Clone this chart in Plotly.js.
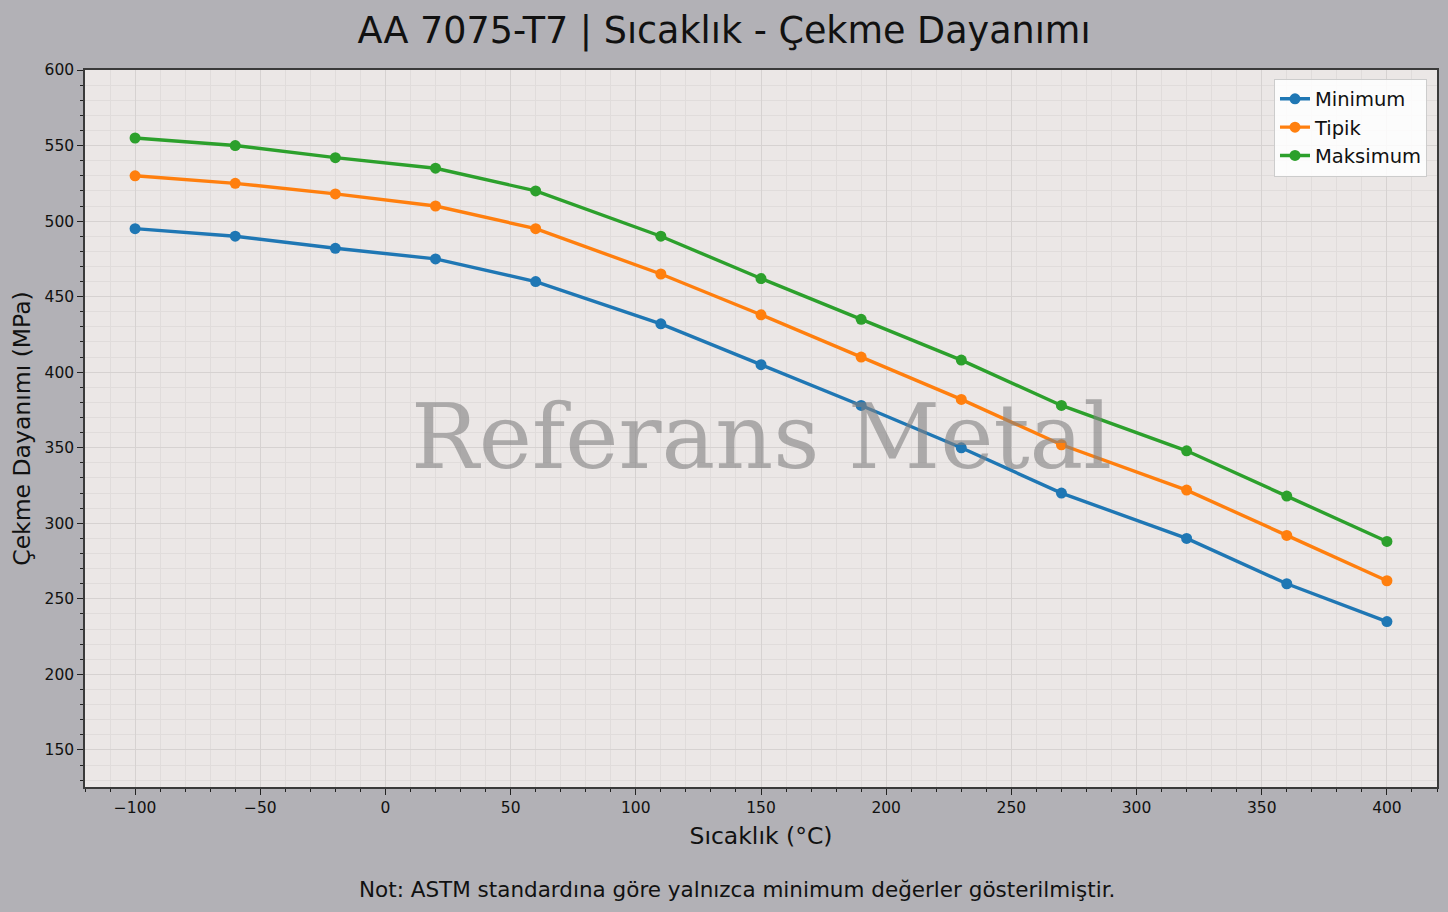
<!DOCTYPE html>
<html>
<head>
<meta charset="utf-8">
<script src="https://cdn.plot.ly/plotly-3.0.1.min.js"></script>
<style>
  html, body { margin: 0; padding: 0; background: #b2b1b6; }
  #chart { width: 1448px; height: 912px; }
</style>
</head>
<body>
<div id="chart"></div>
<script>
const temps = [-100, -60, -20, 20, 60, 110, 150, 190, 230, 270, 320, 360, 400];
const minimum = [495, 490, 482, 475, 460, 432, 405, 378, 350, 320, 290, 260, 235];
const tipik = [530, 525, 518, 510, 495, 465, 438, 410, 382, 352, 322, 292, 262];
const maksimum = [555, 550, 542, 535, 520, 490, 462, 435, 408, 378, 348, 318, 288];

const seriesNames = ["Minimum", "Tipik", "Maksimum"];
const seriesColors = ["#1f77b4", "#ff7f0e", "#2ca02c"];

function makeTrace(values, i) {
  return {
    x: temps,
    y: values,
    type: "scatter",
    mode: "lines+markers",
    name: seriesNames[i],
    line: { color: seriesColors[i], width: 3.4 },
    marker: { color: seriesColors[i], size: 11 },
  };
}

const data = [minimum, tipik, maksimum].map(makeTrace);

const font = "DejaVu Sans, sans-serif";
const spine = "#3a3a3a";

const axisBase = {
  showline: true,
  mirror: true,
  linecolor: spine,
  linewidth: 1.5,
  ticks: "outside",
  ticklen: 6,
  tickwidth: 1.2,
  tickcolor: "#222",
  tickfont: { family: font, size: 15.5, color: "#111" },
  showgrid: true,
  gridcolor: "#d6d2d1",
  gridwidth: 1.2,
  zeroline: false,
};

const minorBase = {
  dtick: 10,
  ticks: "outside",
  ticklen: 3.5,
  tickcolor: "#222",
  showgrid: true,
  gridcolor: "#e0dcdb",
  gridwidth: 1,
};

const layout = {
  width: 1448,
  height: 912,
  paper_bgcolor: "#b2b1b6",
  plot_bgcolor: "#ebe7e6",
  margin: { l: 85, r: 11, t: 70, b: 125 },
  title: {
    text: "AA 7075-T7 | Sıcaklık - Çekme Dayanımı",
    font: { family: font, size: 36.5, color: "#111" },
    x: 0.5,
    xanchor: "center",
    y: 0.967,
    yanchor: "middle",
  },
  xaxis: Object.assign({}, axisBase, {
    range: [-120, 420],
    dtick: 50,
    tick0: 0,
    minor: Object.assign({}, minorBase),
    title: { text: "Sıcaklık (°C)", font: { family: font, size: 23.5, color: "#111" }, standoff: 11 },
  }),
  yaxis: Object.assign({}, axisBase, {
    range: [125.5, 600],
    dtick: 50,
    tick0: 0,
    minor: Object.assign({}, minorBase),
    title: { text: "Çekme Dayanımı (MPa)", font: { family: font, size: 23.5, color: "#111" }, standoff: 7 },
  }),
  legend: {
    x: 0.9926,
    y: 0.988,
    xanchor: "right",
    yanchor: "top",
    bgcolor: "rgba(255,255,255,0.85)",
    bordercolor: "#cccccc",
    borderwidth: 1,
    font: { family: font, size: 19.5, color: "#111" },
  },
  annotations: [
    {
      text: "Referans Metal",
      xref: "paper",
      yref: "paper",
      x: 0.5,
      y: 0.489,
      showarrow: false,
      font: { family: "DejaVu Serif, serif", size: 90, color: "rgba(128,128,128,0.6)" },
    },
    {
      text: "Not: ASTM standardına göre yalnızca minimum değerler gösterilmiştir.",
      xref: "paper",
      yref: "paper",
      x: 0.4822,
      y: -0.143,
      xanchor: "center",
      yanchor: "middle",
      showarrow: false,
      font: { family: font, size: 21.5, color: "#111" },
    },
  ],
};

Plotly.newPlot("chart", data, layout, { displayModeBar: false });
</script>
</body>
</html>
